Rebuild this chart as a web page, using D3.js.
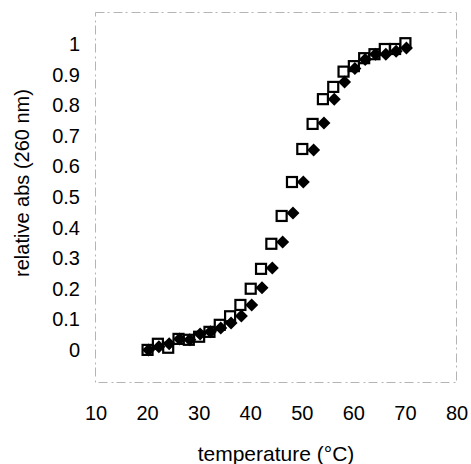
<!DOCTYPE html>
<html><head><meta charset="utf-8">
<script src="https://cdn.jsdelivr.net/npm/d3@7"></script>
<style>html,body{margin:0;padding:0;background:#fff;}svg{display:block;}</style>
</head><body>
<svg id="chart" width="471" height="464"></svg>
<script>
const temps = [20,22,24,26,28,30,32,34,36,38,40,42,44,46,48,50,52,54,56,58,60,62,64,66,68,70];
const squareVals = [0.0,0.02,0.007,0.036,0.033,0.043,0.059,0.082,0.11,0.147,0.2,0.265,0.347,0.438,0.549,0.657,0.739,0.82,0.86,0.91,0.928,0.954,0.967,0.984,0.984,1.003];
const diamondVals = [0.0,0.01,0.02,0.036,0.033,0.052,0.059,0.072,0.088,0.111,0.147,0.203,0.268,0.353,0.448,0.549,0.654,0.742,0.82,0.876,0.92,0.95,0.967,0.967,0.977,0.987];
const xTicks = [10,20,30,40,50,60,70,80];
const yTicks = [0,0.1,0.2,0.3,0.4,0.5,0.6,0.7,0.8,0.9,1];
const xTitle = "temperature (°C)";
const yTitle = "relative abs (260 nm)";

const svg = d3.select("#chart");
const font = "'Liberation Sans', Arial, sans-serif";
const x = d3.scaleLinear().domain([10,80]).range([96,457]);
const y = d3.scaleLinear().domain([-0.105,1.105]).range([382,12]);

// frame
svg.append("rect")
  .attr("x", x(10)-0.5).attr("y", y(1.105)+0.5)
  .attr("width", x(80)-x(10)).attr("height", y(-0.105)-y(1.105))
  .attr("fill","none").attr("stroke","#b4b4b4").attr("stroke-width",1)
  .attr("stroke-dasharray","9,3,2,4");

// tick labels
svg.append("g").selectAll("text").data(yTicks).join("text")
  .attr("x", 80).attr("y", d=>y(d)).attr("text-anchor","end")
  .attr("dominant-baseline","central")
  .attr("font-family",font).attr("font-size",20).attr("fill","#000")
  .text(d=>d3.format("~g")(d));
svg.append("g").selectAll("text").data(xTicks).join("text")
  .attr("x", d=>x(d)).attr("y", 413).attr("text-anchor","middle")
  .attr("dominant-baseline","central")
  .attr("font-family",font).attr("font-size",20).attr("fill","#000")
  .text(d=>d);

// titles
svg.append("text").attr("x", 276).attr("y", 453).attr("text-anchor","middle")
  .attr("dominant-baseline","central")
  .attr("font-family",font).attr("font-size",21).text(xTitle);
svg.append("text").attr("transform","translate(22,183) rotate(-90)")
  .attr("text-anchor","middle").attr("dominant-baseline","central")
  .attr("font-family",font).attr("font-size",20).text(yTitle);

// markers
const sq = 10;
svg.append("g").selectAll("rect").data(temps.map((t,i)=>[t,squareVals[i]])).join("rect")
  .attr("x", d=>x(d[0])-sq/2).attr("y", d=>y(d[1])-sq/2)
  .attr("width", sq).attr("height", sq)
  .attr("fill","#fff").attr("stroke","#000").attr("stroke-width",2.2);
const dw = 6.5, dh = 6.5;
svg.append("g").selectAll("path").data(temps.map((t,i)=>[t,diamondVals[i]])).join("path")
  .attr("d", d=>{const cx=x(d[0])+1, cy=y(d[1]); return `M${cx},${cy-dh}L${cx+dw},${cy}L${cx},${cy+dh}L${cx-dw},${cy}Z`;})
  .attr("fill","#000");
</script>
</body></html>
